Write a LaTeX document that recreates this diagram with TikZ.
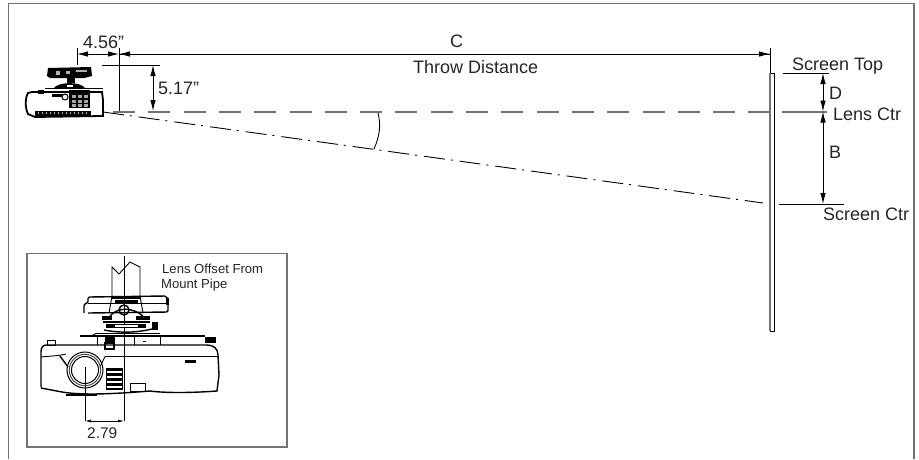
\documentclass[tikz,border=0pt]{standalone}
\usepackage{fontspec}
\setmainfont{Liberation Sans}
\usetikzlibrary{arrows.meta}
\definecolor{framegray}{gray}{0.45}
\tikzset{
  lbl/.style={inner sep=0pt,anchor=base west,font=\fontsize{18}{20}\selectfont,text=black!85},
  lblsmall/.style={lbl,font=\fontsize{13.1}{15}\selectfont},
  lblmid/.style={lbl,font=\fontsize{15.5}{17}\selectfont},
  dim/.style={black,line width=0.9pt},
  grayline/.style={framegray,line width=1.1pt},
  arr/.style={dim,{Latex[length=11pt,width=5.5pt]}-{Latex[length=11pt,width=5.5pt]}},
  arrend/.style={dim,-{Latex[length=11pt,width=5.5pt]}},
  arrsmall/.style={black,line width=0.7pt,{Latex[length=6pt,width=3pt]}-{Latex[length=6pt,width=3pt]}},
  lensaxis/.style={framegray,line width=1.7pt,dash pattern=on 22pt off 13.3pt},
  beam/.style={black,line width=0.9pt,dash pattern=on 21pt off 6pt on 2pt off 7pt},
  part/.style={black,line width=0.9pt},
  partbold/.style={black,line width=1.4pt}
}
\begin{document}
\begin{tikzpicture}[x=1pt,y=-1pt]
\useasboundingbox (0,0) rectangle (919,459);
\fill[white] (0,0) rectangle (919,459);
% frame
\draw[framegray,line width=1.2pt] (8.5,459) -- (8.5,3.8) -- (914,3.8) -- (914,459);
% named points
\coordinate (tickA) at (77,54);
\coordinate (tickB) at (119,54);
\coordinate (tickC) at (770,54);
\coordinate (lensY) at (153,111);
\coordinate (topY) at (153,65);
\coordinate (scrTop) at (823,73);
\coordinate (lensR) at (823,111.5);
\coordinate (scrCtr) at (823,204);
% dashed lens axis
\draw[lensaxis] (113,111.8) -- (770,111.8);
\draw[framegray,line width=1.7pt] (781.5,111.8) -- (827,111.8);
% beam
\draw[beam] (103,112) -- (763,203);
% angle arc
\draw[dim] (378,113) .. controls (381,125) and (380,135) .. (374,149);
% dimension ticks and lines
\draw[dim] (77,48) -- (77,65);
\draw[dim] (119,48) -- (119,111);
\draw[dim] (102,65) -- (160,65);
\draw[arr] (tickA) -- (tickB);
\draw[dim,{Latex[length=11pt,width=5.5pt]}-] (tickB) -- (tickC);
\draw[arrend] (tickB) -- (tickC);
\draw[dim] (770,48) -- (770,73);
\draw[arr] (topY) -- (lensY);
% screen
\draw[black,line width=1pt] (770,73) rectangle (774.5,331);
\draw[framegray,line width=1.2pt] (770,73) -- (770,331);
% right dimensions
\draw[dim] (783,73) -- (829,73);
\draw[dim] (779,204) -- (844,204);
\draw[arr] (scrTop) -- (lensR);
\draw[arr] (lensR) -- (scrCtr);
% labels
\node[lbl] (l456) at (83,48) {4.56"};
\node[lbl] (lC) at (450,47) {C};
\node[lbl] (lthrow) at (413,73.5) {Throw Distance};
\node[lbl] (l517) at (158,94) {5.17"};
\node[lbl] (ltop) at (792,70) {Screen Top};
\node[lbl] (lD) at (829,99) {D};
\node[lbl] (llens) at (833,120) {Lens Ctr};
\node[lbl] (lB) at (829,158) {B};
\node[lbl] (lctr) at (823,220) {Screen Ctr};
% ---------- small projector, side view
\fill[black] (48,68) -- (91,67) -- (92,76) -- (84,78) -- (50,78) -- (47,76) -- cycle;
\fill[gray!60] (56,71) rectangle (60,75);
\fill[gray!60] (66,71) rectangle (70,74);
\fill[gray!60] (76,70) rectangle (87,71.5);
\fill[black] (67,78) rectangle (75,83);
\fill[black] (54,88) .. controls (58,82) and (80,81) .. (85,88) -- cycle;
\fill[white] (67,84.5) rectangle (73,87);
\draw[partbold] (45,88.5) -- (103,88.5);
\draw[part] (38,90) rectangle (43,93);
\draw[line width=1.8pt] (32,92) -- (102,92) -- (103,100) -- (103,116) -- (35,117) -- (28,114) .. controls (25,108) and (25,98) .. (28,93) -- (32,92);
\fill[black] (69,90) rectangle (90,108);
\foreach \yy in {95,100,104}{
  \fill[gray!70] (72,\yy) rectangle (75.5,\yy+2.5);
  \fill[gray!70] (78,\yy) rectangle (81.5,\yy+2.5);
  \fill[gray!70] (84,\yy) rectangle (87.5,\yy+2.5);
}
\fill[black] (35,111) rectangle (91,116);
\foreach \xx in {38,42,...,88}{\fill[gray!60] (\xx,112) rectangle (\xx+1,114);}
\fill[black] (52,94) rectangle (65,97);
\filldraw[fill=white,draw=black,line width=1pt] (65,97) circle (3);
% ---------- inset
\draw[framegray,line width=1.2pt] (27,253.5) rectangle (287,447);
\coordinate (pipeC) at (124,256);
\coordinate (pipeB) at (124,421);
\coordinate (lensT) at (85,367);
\coordinate (lensB) at (85,421);
% pipe
\draw[part] (112,296) -- (112,267) -- (119,274) -- (130,262) -- (140,267) -- (140,296);
\draw[part] (pipeC) -- (pipeB);
\draw[part] (lensT) -- (lensB);
\draw[arrsmall] (lensB) -- (pipeB);
% mount head
\draw[partbold,rounded corners=1.5pt] (84,313) -- (84,304) -- (88,303) -- (88,297) -- (166,296) -- (168,300) -- (168,312) -- (88,313);
\draw[part] (88,303) -- (168,303);
\fill[black] (112,296) rectangle (140,299);
\fill[black] (115,300) rectangle (138,303);
\fill[black] (166,298) rectangle (169,305);
\draw[part] (112,296) -- (109,313);
\draw[part] (140,296) -- (143,313);
\draw[partbold] (124,310) circle (5);
\draw[partbold] (110,316) .. controls (118,307) and (132,307) .. (143,316);
% swivel
\fill[black] (102,316) rectangle (112,320);
\fill[black] (136,316) rectangle (150,320);
\draw[partbold] (103,322) -- (150,322);
\fill[black] (106,324) rectangle (146,328);
\fill[white] (115,325) rectangle (138,326.5);
\draw[partbold] (104,330) .. controls (120,333) and (135,333) .. (152,329);
\fill[black] (152,322) rectangle (158,330);
\draw[part] (97,333) -- (160,333);
\draw[part] (97,333) -- (91,336);
\draw[partbold] (80,336) -- (205,336);
\draw[part] (97,336) -- (97,345);
\draw[part] (160,336) -- (160,345);
\draw[part] (134,337) -- (134,345);
\fill[black] (105,337) rectangle (115,343);
\draw[partbold] (105,343) rectangle (114,349);
\fill[black] (205,337) rectangle (216,343);
\draw[part] (143,341) -- (146,341);
% body
\draw[partbold] (41,387) -- (41,352) .. controls (41,347) and (43,345) .. (47,345) -- (207,345) .. controls (214,345) and (218,349) .. (218,355) -- (219,375) -- (217,391) .. controls (190,393) and (165,393) .. (150,391) .. controls (125,393) and (85,396) .. (62,392) -- (41,388);
\draw[part] (47,340) rectangle (55,345);
\draw[partbold] (105,356.5) -- (218,356.5);
\draw[part] (41,357) .. controls (50,356) and (58,356) .. (66,354);
\draw[partbold] (60,356) -- (68,367);
\draw[part] (105,356.5) -- (100,367);
% lens
\draw[black,line width=1pt] (85,370) circle (18);
\draw[black!70,line width=1pt] (85,370) circle (15.7);
\draw[black,line width=1pt] (85,370) circle (13.5);
% grille
\fill[black] (106,368) rectangle (123,390);
\foreach \yy in {371,376,381,386}{\fill[white] (107,\yy) rectangle (122,\yy+1.6);}
% window and logo
\draw[part] (130,383) rectangle (145,391);
\fill[black] (185,360) rectangle (196,363);
% foot
\fill[black] (66,394) rectangle (97,396);
% inset labels
\node[lblsmall] (loff) at (162,273) {Lens Offset From};
\node[lblsmall] (lpipe) at (161,288) {Mount Pipe};
\node[lblmid] (l279) at (87,438) {2.79};
\end{tikzpicture}
\end{document}
